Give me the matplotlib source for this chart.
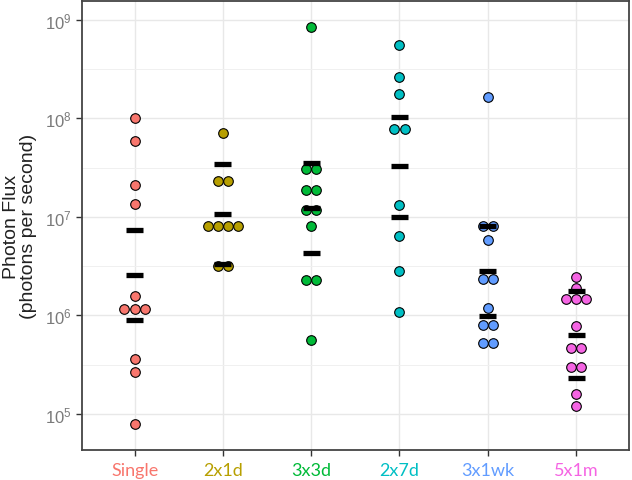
import numpy as np
import matplotlib
matplotlib.use("Agg")
import matplotlib.pyplot as plt
from matplotlib.ticker import FixedLocator

plt.rcParams['font.family'] = ['Liberation Sans', 'DejaVu Sans']
plt.rcParams['mathtext.fontset'] = 'custom'
plt.rcParams['mathtext.rm'] = 'Liberation Sans'
plt.rcParams['mathtext.it'] = 'Liberation Sans:italic'
plt.rcParams['mathtext.bf'] = 'Liberation Sans:bold'

categories = ["Single", "2x1d", "3x3d", "2x7d", "3x1wk", "5x1m"]
colors = ["#F8766D", "#B79F00", "#00BA38", "#00BFC4", "#619CFF", "#F564E3"]

single = [1.0e8, 5.85e7, 2.1e7, 1.35e7, 1.59e6, 1.15e6, 1.15e6, 1.15e6, 3.62e5, 2.65e5, 7.9e4]
d2x1d = [7.05e7, 2.33e7, 2.33e7, 8.04e6, 8.04e6, 8.04e6, 8.04e6, 3.2e6, 3.2e6]
d3x3d = [8.5e8, 3.06e7, 3.06e7, 1.87e7, 1.87e7, 1.17e7, 1.17e7, 8.15e6, 2.31e6, 2.31e6, 5.65e5]
d2x7d = [5.5e8, 2.64e8, 1.76e8, 7.8e7, 7.8e7, 1.33e7, 6.36e6, 2.8e6, 1.09e6]
d3x1wk = [1.64e8, 8.15e6, 8.15e6, 5.87e6, 2.35e6, 2.35e6, 1.18e6, 8.0e5, 8.0e5, 5.2e5, 5.2e5]
d5x1m = [2.48e6, 1.9e6, 1.46e6, 1.46e6, 1.46e6, 7.76e5, 4.7e5, 4.7e5, 3.03e5, 3.03e5, 1.61e5, 1.2e5]
series = [single, d2x1d, d3x3d, d2x7d, d3x1wk, d5x1m]

# summary bars (upper, centre, lower)
bar_upper = [7.36e6, 3.47e7, 3.5e7, 1.04e8, 8.1e6, 1.79e6]
bar_mid = [2.6e6, 1.08e7, 1.24e7, 3.26e7, 2.8e6, 6.3e5]
bar_lower = [8.9e5, 3.33e6, 4.3e6, 1.0e7, 9.8e5, 2.3e5]

W, H = 632, 481
fig = plt.figure(figsize=(W / 100, H / 100), dpi=100)
ax = fig.add_axes([81.7 / W, 30 / H, (629 - 81.7) / W, (451 - 2) / H])

ax.set_yscale('log')
ax.set_ylim(10 ** 4.635, 10 ** 9.19)
ax.set_xlim(0.4, 6.6)

dot_step = 0.116  # horizontal spacing of stacked dots in data units
for i, (vals, col) in enumerate(zip(series, colors)):
    xc = i + 1
    uniq = []
    for v in vals:
        if v not in uniq:
            uniq.append(v)
    xs, ys = [], []
    for v in uniq:
        n = vals.count(v)
        offs = (np.arange(n) - (n - 1) / 2) * dot_step
        xs.extend(xc + offs)
        ys.extend([v] * n)
    ax.scatter(xs, ys, s=48, c=col, edgecolors='black', linewidths=0.8, zorder=3)

xpos = np.arange(1, len(categories) + 1)
for arr in (bar_upper, bar_mid, bar_lower):
    ax.hlines(arr, xpos - 0.096, xpos + 0.096, colors='black', linewidth=3.8, zorder=4)

ax.set_xticks(xpos)
ax.set_xticklabels(categories, fontsize=13, family=['Lato', 'DejaVu Sans'])
for lab, col in zip(ax.get_xticklabels(), colors):
    lab.set_color(col)

ax.yaxis.set_major_locator(FixedLocator([1e5, 1e6, 1e7, 1e8, 1e9]))
ax.set_yticklabels([r'$\mathdefault{10^{%d}}$' % e for e in [5, 6, 7, 8, 9]])
ax.yaxis.set_minor_locator(FixedLocator([10 ** 4.5, 10 ** 5.5, 10 ** 6.5, 10 ** 7.5, 10 ** 8.5]))
ax.tick_params(axis='y', which='minor', length=0)
ax.tick_params(axis='y', which='major', labelsize=12, labelcolor='#7A7A7A', color='#333333', length=4, width=1)
ax.tick_params(axis='x', which='major', color='#333333', length=4, width=1, pad=5)

ax.grid(True, which='major', color='#E8E8E8', linewidth=1.0, zorder=0)
ax.grid(True, which='minor', axis='y', color='#F0F0F0', linewidth=0.7, zorder=0)
ax.set_axisbelow(True)

for sp in ax.spines.values():
    sp.set_color('#444444')
    sp.set_linewidth(1.3)

ax.set_ylabel("Photon Flux\n(photons per second)", fontsize=14, color='#222222', linespacing=1.0)
ax.yaxis.set_label_coords(-0.082, 0.5)

fig.savefig("out.png", dpi=100)
